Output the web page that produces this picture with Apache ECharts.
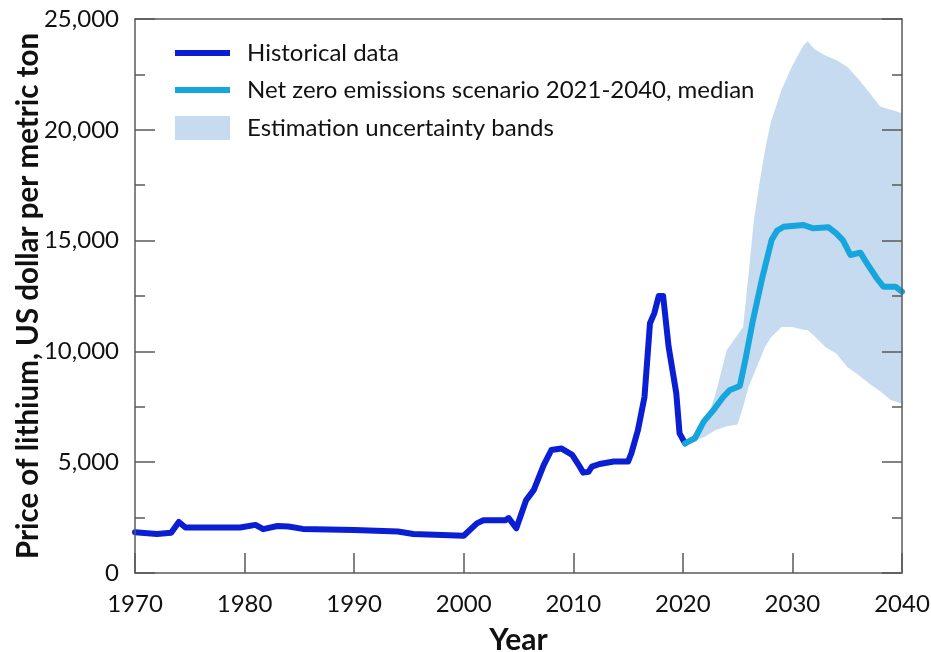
<!DOCTYPE html>
<html>
<head>
<meta charset="utf-8">
<script src="https://cdn.jsdelivr.net/npm/echarts@6/dist/echarts.min.js"></script>
<style>
html,body{margin:0;padding:0;background:#fff;}
#chart{width:931px;height:652px;}
</style>
</head>
<body>
<div id="chart"></div>
<script>
// ---- data ----
var histYears = [1970, 1972, 1973.3, 1974, 1974.6, 1979.6, 1981, 1981.7, 1983, 1984, 1985.3, 1990, 1994, 1995.4, 2000, 2001.2, 2001.8, 2003.8, 2004.1, 2004.8, 2005.7, 2006.4, 2007.3, 2008, 2008.9, 2009.9, 2010.5, 2010.9, 2011.4, 2011.7, 2012.4, 2013.7, 2015, 2015.3, 2015.9, 2016.5, 2017, 2017.4, 2017.8, 2018.2, 2018.7, 2019.4, 2019.7, 2020.2];
var histPrice = [1840, 1760, 1820, 2300, 2050, 2050, 2170, 1980, 2120, 2100, 1990, 1940, 1870, 1760, 1680, 2240, 2380, 2380, 2480, 2020, 3290, 3750, 4870, 5550, 5620, 5330, 4870, 4530, 4570, 4800, 4920, 5030, 5030, 5400, 6450, 7950, 11270, 11730, 12500, 12500, 10210, 8110, 6300, 5850];

var nzYears = [2020.2, 2021.1, 2021.9, 2022.8, 2023.7, 2024.3, 2025.2, 2025.7, 2026.4, 2027.2, 2028.1, 2028.6, 2029.2, 2031, 2031.9, 2033.3, 2034, 2034.6, 2035.3, 2036.2, 2036.8, 2037.7, 2038.3, 2039.4, 2040];
var nzPrice = [5850, 6080, 6830, 7355, 7955, 8260, 8440, 9610, 11415, 13220, 15025, 15450, 15625, 15705, 15555, 15600, 15330, 15025, 14350, 14455, 13975, 13300, 12920, 12920, 12695];

var bandYears = [2020, 2021, 2022, 2023, 2024, 2025, 2025.5, 2026, 2026.5, 2027, 2027.5, 2028, 2029, 2030, 2031, 2031.4, 2032, 2033, 2034, 2035, 2036, 2037, 2038, 2039, 2040];
var bandLow  = [5850, 5950, 6150, 6450, 6620, 6700, 7500, 8400, 9000, 9600, 10200, 10600, 11100, 11100, 10980, 10950, 10700, 10200, 9900, 9300, 8950, 8550, 8200, 7800, 7650];
var bandHigh = [5850, 6000, 6650, 8100, 10050, 10750, 11100, 13500, 16000, 17600, 19100, 20300, 21800, 22900, 23800, 24000, 23650, 23350, 23150, 22850, 22300, 21700, 21050, 20900, 20750];

var xTicks = [1970, 2040, 10];          // min, max, interval
var yTicks = [0, 25000, 5000];          // min, max, interval

var names = ['Historical data', 'Net zero emissions scenario 2021-2040, median', 'Estimation uncertainty bands'];
var colors = ['#0a1ed4', '#17a5dd', '#c6dbef'];

// ---- build ----
function pairs(xs, ys) { return xs.map(function (x, i) { return [x, ys[i]]; }); }

var FONT = 'Lato, "Open Sans", sans-serif';
var axisColor = '#5a5a5a';

var chart = echarts.init(document.getElementById('chart'), null, {renderer: 'canvas'});
var legendBase = {
  orient: 'horizontal', left: 175, itemWidth: 55, icon: 'rect', itemGap: 0,
  selectedMode: false, padding: 0,
  textStyle: {fontFamily: FONT, fontSize: 24, color: '#111', padding: [0, 0, 0, 12]}
};
chart.setOption({
  animation: false,
  textStyle: {fontFamily: FONT},
  grid: {left: 135, right: 29, top: 19, bottom: 79, containLabel: false, outerBoundsMode: 'none'},
  legend: [
    Object.assign({}, legendBase, {top: 41, itemHeight: 6, data: [names[0]]}),
    Object.assign({}, legendBase, {top: 78, itemHeight: 6, data: [names[1]]}),
    Object.assign({}, legendBase, {top: 116, itemHeight: 24, data: [names[2]]})
  ],
  xAxis: [{
    type: 'value', min: xTicks[0], max: xTicks[1], interval: xTicks[2], z: 5,
    name: 'Year', nameLocation: 'middle', nameGap: 52, nameMoveOverlap: false,
    nameTextStyle: {fontFamily: FONT, fontSize: 30, fontWeight: 'bold', color: '#111'},
    axisLine: {show: true, lineStyle: {color: axisColor, width: 1.5}},
    axisTick: {show: true, inside: true, length: 20, lineStyle: {color: axisColor, width: 1.5}},
    axisLabel: {fontFamily: FONT, fontSize: 24, color: '#111', margin: 19,
      formatter: function (v) { return String(v); }},
    splitLine: {show: false}
  }, {
    type: 'value', position: 'top', min: xTicks[0], max: xTicks[1], interval: xTicks[2], z: 5,
    axisLine: {show: true, onZero: false, lineStyle: {color: axisColor, width: 1.5}},
    axisTick: {show: false}, axisLabel: {show: false}, splitLine: {show: false}
  }],
  yAxis: [{
    type: 'value', min: yTicks[0], max: yTicks[1], interval: yTicks[2], z: 5,
    name: 'Price of lithium, US dollar per metric ton', nameLocation: 'middle', nameGap: 92, nameRotate: 90,
    nameMoveOverlap: false,
    nameTextStyle: {fontFamily: FONT, fontSize: 29.5, fontWeight: 'bold', color: '#111'},
    axisLine: {show: true, lineStyle: {color: axisColor, width: 1.5}},
    axisTick: {show: true, inside: true, length: 20, lineStyle: {color: axisColor, width: 1.5}},
    minorTick: {show: true, splitNumber: 2, length: 10, lineStyle: {color: axisColor, width: 1.5}},
    axisLabel: {fontFamily: FONT, fontSize: 24, color: '#111', margin: 16,
      formatter: function (v) { return v.toLocaleString('en-US'); }},
    splitLine: {show: false}
  }, {
    type: 'value', position: 'right', min: yTicks[0], max: yTicks[1], interval: yTicks[2], z: 5,
    axisLine: {show: true, onZero: false, lineStyle: {color: axisColor, width: 1.5}},
    axisTick: {show: true, inside: true, length: 20, lineStyle: {color: axisColor, width: 1.5}},
    minorTick: {show: true, splitNumber: 2, length: 10, lineStyle: {color: axisColor, width: 1.5}},
    axisLabel: {show: false}, splitLine: {show: false}
  }],
  series: [{
    name: names[2], type: 'custom', coordinateSystem: 'cartesian2d',
    data: pairs(bandYears, bandHigh), encode: {x: 0, y: 1},
    itemStyle: {color: colors[2]}, silent: true, z: 1, clip: true,
    renderItem: function (params, api) {
      if (params.dataIndex !== 0) return null;
      var pts = [];
      for (var i = 0; i < bandYears.length; i++) pts.push(api.coord([bandYears[i], bandHigh[i]]));
      for (var j = bandYears.length - 1; j >= 0; j--) pts.push(api.coord([bandYears[j], bandLow[j]]));
      return {type: 'polygon', shape: {points: pts}, style: {fill: colors[2]}};
    }
  }, {
    name: names[0], type: 'line', data: pairs(histYears, histPrice),
    showSymbol: false, symbol: 'none',
    itemStyle: {color: colors[0]},
    lineStyle: {color: colors[0], width: 6, join: 'round', cap: 'round'}, z: 3
  }, {
    name: names[1], type: 'line', data: pairs(nzYears, nzPrice),
    showSymbol: false, symbol: 'none',
    itemStyle: {color: colors[1]},
    lineStyle: {color: colors[1], width: 6, join: 'round', cap: 'round'}, z: 4
  }]
});
</script>
</body>
</html>
